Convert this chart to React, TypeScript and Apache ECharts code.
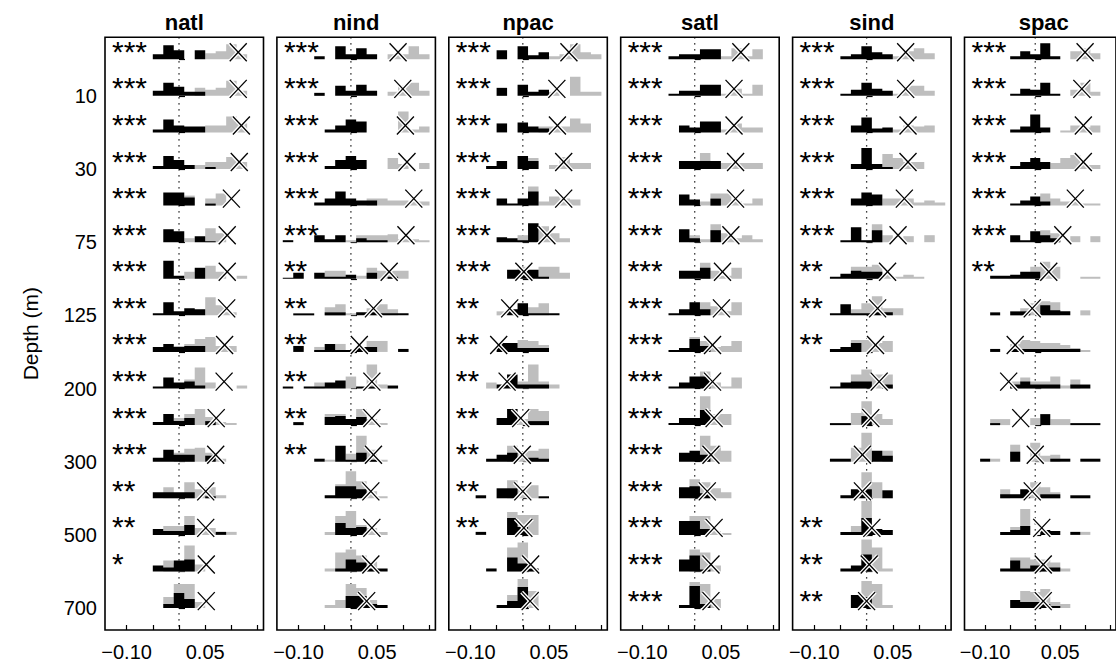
import React, { useEffect, useRef } from "react";
import * as echarts from "echarts";

// Ocean regions, one panel each
const regions = ["natl", "nind", "npac", "satl", "sind", "spac"];
// Standard depth levels (m), one histogram row each
const depths = ["5", "10", "20", "30", "50", "75", "100", "125", "150", "200", "250", "300", "400", "500", "600", "700"];
const labelledRows = [2, 4, 6, 8, 10, 12, 14, 16];
const xTickValues = [-0.1, -0.05, 0, 0.05, 0.1, 0.15];
const xLabelValues = [-0.1, 0.05];

// Histogram bins: bin k spans [BIN_START + k*BIN_WIDTH, BIN_START + (k+1)*BIN_WIDTH]
const BIN_START = -0.13;
const BIN_WIDTH = 0.02;

// Each histogram row: [first bin index, density of that bin, next bin, ...]
const natlDark = [
  [4, 5, 14, 9, 0, 9], [4, 5, 13, 9, 4, 4], [4, 3, 13, 7, 6, 6], [4, 3, 13, 9, 4, 0, 2],
  [5, 13, 13, 8, 0, 2], [5, 13, 11, 0, 6, 1], [5, 18, 3, 0, 11], [4, 2, 13, 4, 7, 6],
  [4, 5, 8, 5, 6, 6], [4, 2, 11, 6, 7, 3], [4, 3, 11, 4, 7, 0, 4], [4, 4, 12, 7, 7, 0, 6],
  [4, 6, 6, 6, 6, 0, 2], [4, 6, 4, 4, 10, 0, 0, 3], [4, 6, 4, 11, 12], [5, 4, 15, 9],
];
const natlLight = [
  [9, 6, 8, 15, 5], [8, 8, 6, 8, 15, 5], [9, 7, 7, 16, 9], [8, 4, 7, 7, 12, 7],
  [7, 10, 0, 7, 12], [7, 4, 0, 14, 9], [7, 7, 0, 13, 7, 0, 3], [9, 18, 10, 3],
  [6, 6, 8, 13, 15, 6, 6], [7, 9, 21, 6, 0, 0, 3], [6, 7, 11, 16, 8, 3, 2], [6, 9, 13, 14, 9, 3],
  [5, 11, 5, 16, 9, 11, 3], [5, 9, 9, 19, 7, 7, 0, 3], [5, 11, 8, 26, 7], [5, 11, 24, 24, 6],
];
const natlCross = [0.113, 0.113, 0.119, 0.115, 0.1, 0.092, 0.092, 0.091, 0.087, 0.086, 0.071, 0.07, 0.051, 0.051, 0.052, 0.052];
const natlStars = ["***", "***", "***", "***", "***", "***", "***", "***", "***", "***", "***", "***", "**", "**", "*", ""];

const nindDark = [
  [3, 3, 0, 13, 5, 11, 5], [3, 3, 0, 10, 5, 11, 5], [4, 3, 7, 13, 11], [4, 3, 9, 13, 9],
  [3, 3, 7, 14, 7, 5, 5], [0, 2, 0, 0, 7, 3, 7, 0, 4, 2, 2], [0, 1, 6, 0, 6, 2, 2, 4, 0, 6, 0, 2], [1, 2, 2, 0, 3, 3, 0, 3, 3, 2, 2, 2],
  [1, 6, 0, 2, 8, 2, 2, 5, 5, 0, 0, 3], [0, 2, 0, 2, 2, 6, 8, 0, 2, 2, 0, 3], [1, 3, 0, 0, 8, 9, 6, 8], [3, 3, 0, 16, 2, 9, 2],
  [4, 3, 12, 12, 9], [5, 12, 7, 8], [5, 3, 12, 9, 3, 3], [6, 12, 12, 4, 3],
];
const nindLight = [
  [10, 5, 5, 13, 5], [10, 4, 10, 13, 5], [11, 21, 3, 6], [10, 11, 5, 0, 6],
  [8, 7, 7, 5, 5, 4, 4], [6, 2, 7, 7, 7, 8, 3, 3, 2], [4, 8, 8, 0, 3, 11, 8, 8, 8], [4, 8, 11, 2, 0, 7, 11, 6],
  [3, 5, 0, 8, 0, 0, 11, 11], [3, 6, 0, 0, 12, 0, 24, 4], [4, 11, 11, 6, 16, 6, 2], [4, 2, 0, 8, 26, 12, 2],
  [5, 14, 27, 17, 7, 2], [4, 3, 19, 24, 10, 7, 3], [4, 3, 19, 22, 16, 10], [4, 3, 8, 24, 20, 8],
];
const nindCross = [0.09, 0.099, 0.104, 0.107, 0.12, 0.105, 0.073, 0.043, 0.016, 0.04, 0.04, 0.043, 0.038, 0.04, 0.038, 0.03];
const nindStars = ["***", "***", "***", "***", "***", "***", "**", "**", "**", "**", "**", "**", "", "", "", ""];

const npacDark = [
  [4, 9, 0, 13, 4, 7], [4, 8, 0, 11, 4, 6], [4, 9, 0, 10, 6, 4], [3, 3, 8, 0, 13, 8],
  [4, 7, 2, 7, 14], [4, 5, 4, 2, 19], [5, 9, 9, 9, 2], [5, 6, 12, 2, 2, 2],
  [4, 9, 9, 4, 4, 4], [4, 4, 14, 4, 4, 4], [4, 7, 16, 0, 4, 4], [3, 3, 7, 9, 0, 4, 3],
  [2, 3, 0, 10, 10, 0, 0, 2], [2, 3, 0, 0, 17, 8], [3, 3, 0, 14, 8, 3], [4, 3, 7, 21],
];
const npacLight = [
  [9, 3, 5, 15, 7, 5], [9, 4, 0, 19, 4, 4], [8, 6, 6, 6, 14, 9], [7, 11, 0, 4, 12, 6, 6],
  [7, 19, 4, 9, 7, 6], [6, 7, 0, 16, 9, 4], [6, 12, 0, 12, 12, 6], [4, 4, 0, 0, 8, 12],
  [6, 12, 11, 7], [3, 6, 0, 0, 7, 24, 7, 4], [6, 6, 16, 14], [5, 16, 10, 11, 13],
  [5, 18, 12, 13], [5, 23, 20, 20], [5, 24, 29, 3], [5, 13, 29, 17],
];
const npacCross = [0.088, 0.065, 0.066, 0.078, 0.078, 0.046, 0.002, -0.025, -0.046, -0.03, -0.004, -0.001, 0.0, 0.002, 0.015, 0.014];
const npacStars = ["***", "***", "***", "***", "***", "***", "***", "**", "**", "**", "**", "**", "**", "**", "", ""];

const satlDark = [
  [4, 3, 5, 5, 10, 10], [4, 2, 5, 5, 11, 11], [5, 7, 5, 11, 11], [5, 8, 8, 8, 8],
  [5, 11, 6, 0, 7], [5, 13, 4, 0, 12], [5, 8, 8, 11], [4, 2, 6, 13, 6],
  [4, 2, 4, 13, 6], [4, 2, 6, 12, 12], [4, 2, 7, 7, 15], [5, 9, 11, 7],
  [5, 11, 12, 5], [5, 14, 14, 6], [5, 12, 16, 2], [5, 3, 22, 4],
];
const satlLight = [
  [9, 3, 11, 3, 10], [9, 2, 7, 2, 11], [9, 3, 9, 5, 5], [7, 16, 0, 6, 6, 6, 6],
  [7, 4, 12, 12, 4, 2, 7], [6, 7, 3, 18, 9, 4, 7, 3], [7, 16, 8, 3, 11], [7, 13, 9, 4, 13],
  [6, 15, 11, 5, 6, 11], [7, 17, 6, 2, 11], [7, 29, 11, 11], [7, 26, 16, 11],
  [6, 19, 16, 10, 6], [6, 19, 19, 4, 2], [6, 22, 19, 6], [6, 26, 24, 9],
];
const satlCross = [0.088, 0.075, 0.075, 0.078, 0.078, 0.069, 0.053, 0.051, 0.034, 0.034, 0.037, 0.031, 0.024, 0.037, 0.031, 0.031];
const satlStars = ["***", "***", "***", "***", "***", "***", "***", "***", "***", "***", "***", "***", "***", "***", "***", "***"];

const sindDark = [
  [4, 3, 5, 13, 7, 5], [4, 2, 6, 13, 7, 5], [5, 7, 15, 4, 5], [5, 5, 21, 5, 2],
  [5, 7, 13, 11], [4, 2, 15, 2, 12], [3, 2, 5, 8, 7, 7], [3, 2, 11, 2, 2, 3, 3],
  [3, 3, 5, 9], [3, 2, 6, 7, 7, 0, 4], [3, 2, 2, 0, 9], [3, 3, 3, 0, 0, 11, 6],
  [4, 3, 9, 9, 0, 8], [4, 3, 3, 17, 6, 5], [4, 3, 6, 17], [5, 13, 11],
];
const sindLight = [
  [9, 3, 8, 11, 6], [9, 2, 10, 10, 5], [9, 3, 7, 6, 7], [8, 15, 11, 7, 7],
  [8, 7, 7, 7, 3, 5, 3], [6, 2, 18, 7, 0, 6, 0, 7], [5, 12, 12, 14, 4, 2, 4, 2], [5, 6, 12, 19, 7, 7],
  [5, 12, 12, 9, 11], [5, 14, 19, 14, 14], [5, 12, 24, 11, 6], [5, 14, 29, 0, 11],
  [5, 0, 26, 16], [5, 9, 34], [5, 0, 32, 24, 3], [5, 0, 27, 24, 3],
];
const sindCross = [0.0745, 0.0745, 0.079, 0.079, 0.072, 0.06, 0.04, 0.021, 0.017, 0.024, 0.008, -0.008, -0.008, 0.01, 0.005, 0.0];
const sindStars = ["***", "***", "***", "***", "***", "***", "**", "**", "**", "", "", "", "", "**", "**", "**"];

const spacDark = [
  [4, 3, 8, 5, 16, 3], [4, 2, 7, 6, 13, 2], [4, 3, 6, 18, 5], [4, 3, 7, 11, 7],
  [4, 2, 5, 9, 4], [4, 7, 2, 11, 7, 4], [2, 3, 3, 4, 7, 7], [2, 3, 0, 4, 4, 0, 10, 5, 4],
  [2, 3, 0, 3, 3, 3, 3, 3, 3, 3], [4, 4, 7, 4, 4, 4, 0, 4, 4], [2, 2, 0, 0, 0, 0, 11, 0, 0, 2, 2, 2], [1, 3, 0, 0, 10, 0, 0, 0, 3, 3, 0, 3, 3],
  [3, 4, 4, 9, 0, 4, 4, 0, 3, 3], [3, 3, 5, 9, 0, 5, 4, 0, 3], [3, 3, 11, 3, 6, 4, 4], [4, 8, 6, 6, 4, 2],
];
const spacLight = [
  [10, 8, 11, 6], [10, 6, 13, 4], [9, 2, 7, 5, 7], [8, 6, 11, 14, 4, 4],
  [7, 12, 7, 4, 4, 2, 2], [7, 12, 9, 0, 6, 0, 6], [6, 12, 17, 12, 0, 0, 2, 2], [5, 7, 12, 14, 13, 0, 0, 5],
  [4, 8, 12, 11, 9, 9, 7, 4, 2], [4, 7, 11, 7, 7, 12, 3, 9], [2, 6, 6, 0, 0, 7, 0, 6, 6], [2, 3, 0, 17, 0, 19, 6, 7],
  [3, 9, 0, 0, 16, 11, 6], [4, 8, 26, 0, 0, 0, 0, 0, 3], [4, 14, 14, 12, 12, 9, 3], [5, 17, 16, 19, 6, 4],
];
const spacCross = [0.0995, 0.093, 0.096, 0.096, 0.08, 0.055, 0.027, -0.006, -0.04, -0.053, -0.029, 0.0, -0.006, 0.013, 0.016, 0.016];
const spacStars = ["***", "***", "***", "***", "***", "***", "**", "", "", "", "", "", "", "", "", ""];

const darkHists = [natlDark, nindDark, npacDark, satlDark, sindDark, spacDark];
const lightHists = [natlLight, nindLight, npacLight, satlLight, sindLight, spacLight];
const crosses = [natlCross, nindCross, npacCross, satlCross, sindCross, spacCross];
const stars = [natlStars, nindStars, npacStars, satlStars, sindStars, spacStars];

// Layout and styling
const FONT = '"Liberation Sans", Arial, Helvetica, sans-serif';
const X_MIN = -0.1412;
const X_MAX = 0.1612;
const ROW_MIN = 0.4;
const ROW_MAX = 16.6;
const DENSITY_TO_ROW = 1 / 36.6;
const CROSS_LIFT = 0.19;
const GREY = "#bebebe";
const PANEL_LEFT = 105;
const PANEL_STEP = 171.9;
const PANEL_TOP = 37.3;
const PANEL_W = 158.5;
const PANEL_H = 592.7;

function histPolygons(spec: number[], row: number, api: any, fill: string) {
  const out: any[] = [];
  const start = spec[0];
  const vals = spec.slice(1);
  let j = 0;
  while (j < vals.length) {
    if (!vals[j]) { j++; continue; }
    const runStart = j;
    while (j < vals.length && vals[j]) j++;
    const pts: number[][] = [];
    const x0 = BIN_START + (start + runStart) * BIN_WIDTH;
    pts.push(api.coord([x0, row]));
    for (let m = runStart; m < j; m++) {
      const a = BIN_START + (start + m) * BIN_WIDTH;
      const top = row - vals[m] * DENSITY_TO_ROW;
      pts.push(api.coord([a, top]));
      pts.push(api.coord([a + BIN_WIDTH, top]));
    }
    pts.push(api.coord([BIN_START + (start + j) * BIN_WIDTH, row]));
    out.push({ type: "polygon", shape: { points: pts }, style: { fill } });
  }
  return out;
}

function crossMarker(cx: number, cy: number) {
  const dx = 8.5, dy = 9;
  const seg = (stroke: string, w: number) => [
    { type: "line", shape: { x1: cx - dx, y1: cy - dy, x2: cx + dx, y2: cy + dy }, style: { stroke, lineWidth: w } },
    { type: "line", shape: { x1: cx - dx, y1: cy + dy, x2: cx + dx, y2: cy - dy }, style: { stroke, lineWidth: w } },
  ];
  return [...seg("#ffffff", 4), ...seg("#000000", 1.3)];
}

function buildOption() {
  const grid: any[] = [];
  const xAxis: any[] = [];
  const yAxis: any[] = [];
  const series: any[] = [];
  const graphic: any[] = [];

  regions.forEach((name, p) => {
    const left = PANEL_LEFT + p * PANEL_STEP;
    grid.push({ left, top: PANEL_TOP, width: PANEL_W, height: PANEL_H, show: true, borderColor: "#000", borderWidth: 1.6, backgroundColor: "transparent", containLabel: false });
    xAxis.push({
      type: "value", gridIndex: p, min: X_MIN, max: X_MAX,
      axisLine: { show: false }, splitLine: { show: false },
      axisTick: { show: true, inside: true, length: 5, lineStyle: { color: "#000", width: 1.2 }, customValues: xTickValues },
      axisLabel: {
        show: true, customValues: xLabelValues, margin: 12, color: "#000", fontSize: 20, fontFamily: FONT,
        formatter: (v: number) => (v < 0 ? "\u2212" + Math.abs(v).toFixed(2) : v.toFixed(2)),
      },
    });
    yAxis.push({
      type: "value", gridIndex: p, min: ROW_MIN, max: ROW_MAX, inverse: true,
      axisLine: { show: false }, splitLine: { show: false },
      axisTick: { show: true, inside: true, length: 6, lineStyle: { color: "#000", width: 1.2 }, customValues: depths.map((_, i) => i + 1) },
      axisLabel: {
        show: p === 0, customValues: labelledRows, margin: 8, color: "#000", fontSize: 20, fontFamily: FONT,
        formatter: (v: number) => depths[Math.round(v) - 1],
      },
    });

    // dotted zero reference line
    series.push({
      type: "custom", xAxisIndex: p, yAxisIndex: p, silent: true, z: 1, data: [[0]],
      renderItem: (_params: any, api: any) => {
        const a = api.coord([0, ROW_MIN]);
        const b = api.coord([0, ROW_MAX]);
        return { type: "line", shape: { x1: a[0], y1: a[1], x2: b[0], y2: b[1] }, style: { stroke: "#000", lineWidth: 1.3, lineDash: [1.3, 4.7] } };
      },
    });

    const dark = darkHists[p], light = lightHists[p], cross = crosses[p], sig = stars[p];
    series.push({
      type: "custom", xAxisIndex: p, yAxisIndex: p, silent: true, z: 2,
      data: depths.map((_, i) => [i + 1]),
      renderItem: (_params: any, api: any) => {
        const row = api.value(0) as number;
        const i = row - 1;
        const children: any[] = [];
        children.push(...histPolygons(light[i], row, api, GREY));
        children.push(...histPolygons(dark[i], row, api, "#000"));
        const c = api.coord([cross[i], row - CROSS_LIFT]);
        children.push(...crossMarker(c[0], c[1]));
        if (sig[i]) {
          const l = api.coord([X_MIN, row]);
          children.push({ type: "text", x: l[0] + 7, y: l[1] - 8, style: { text: sig[i], fill: "#000", fontSize: 30, fontFamily: FONT, align: "left", verticalAlign: "middle" } });
        }
        return { type: "group", children };
      },
    });

    graphic.push({ type: "text", x: left + PANEL_W / 2, y: 22, style: { text: name, fill: "#000", fontSize: 22, fontWeight: "bold", fontFamily: FONT, align: "center", verticalAlign: "middle" } });
  });

  graphic.push({ type: "text", x: 30, y: PANEL_TOP + PANEL_H / 2, rotation: Math.PI / 2, style: { text: "Depth (m)", fill: "#000", fontSize: 21, fontFamily: FONT, align: "center", verticalAlign: "middle" } });

  return { animation: false, backgroundColor: "#ffffff", grid, xAxis, yAxis, series, graphic };
}

export default function App() {
  const ref = useRef<HTMLDivElement>(null);
  useEffect(() => {
    if (!ref.current) return;
    const chart = echarts.init(ref.current, undefined, { renderer: "svg" });
    chart.setOption(buildOption() as any);
    return () => chart.dispose();
  }, []);
  return <div ref={ref} style={{ position: "fixed", left: 0, top: 0, width: 1116, height: 664, background: "#fff" }} />;
}
